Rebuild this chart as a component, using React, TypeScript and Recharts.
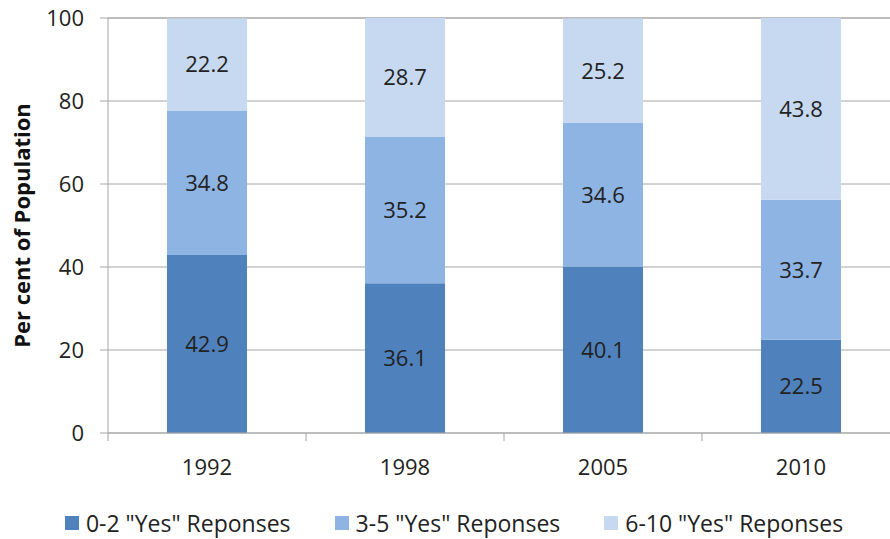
import React from "react";
import {
  BarChart,
  Bar,
  XAxis,
  YAxis,
  CartesianGrid,
  Legend,
  LabelList,
} from "recharts";

const years = ["1992", "1998", "2005", "2010"];
const low = [42.9, 36.1, 40.1, 22.5];
const mid = [34.8, 35.2, 34.6, 33.7];
const high = [22.2, 28.7, 25.2, 43.8];
const yTicks = [0, 20, 40, 60, 80, 100];

const seriesNames = {
  low: '0-2 "Yes" Reponses',
  mid: '3-5 "Yes" Reponses',
  high: '6-10 "Yes" Reponses',
};

const colors = {
  low: "#4f81bd",
  mid: "#8eb4e3",
  high: "#c6d9f1",
};

const data = years.map((year, i) => ({
  year,
  low: low[i],
  mid: mid[i],
  high: high[i],
}));

const FONT = "'Open Sans', sans-serif";
const AXIS_GREY = "#a6a6a6";
const TEXT = "#222";

// category label plus tick marks on the band edges
const YearTick = (props: any) => {
  const { x, y, payload, index, visibleTicksCount } = props;
  const half = payload.offset || 0;
  const top = y - 8;
  return (
    <g>
      <line x1={x - half} x2={x - half} y1={top} y2={top + 8} stroke={AXIS_GREY} />
      {index === visibleTicksCount - 1 && (
        <line x1={x + half} x2={x + half} y1={top} y2={top + 8} stroke={AXIS_GREY} />
      )}
      <text
        x={x}
        y={y + 34}
        textAnchor="middle"
        fontFamily={FONT}
        fontSize={22}
        fill={TEXT}
      >
        {payload.value}
      </text>
    </g>
  );
};

const LegendContent = (props: any) => {
  const { payload } = props;
  return (
    <div
      style={{
        display: "flex",
        justifyContent: "center",
        gap: 44,
        fontFamily: FONT,
        fontSize: 23,
        lineHeight: "32px",
        color: TEXT,
        paddingLeft: 8,
      }}
    >
      {payload.map((entry: any) => (
        <div key={entry.value} style={{ display: "flex", alignItems: "center" }}>
          <span
            style={{
              display: "inline-block",
              width: 14,
              height: 14,
              background: entry.color,
              marginRight: 7,
            }}
          />
          <span>{entry.value}</span>
        </div>
      ))}
    </div>
  );
};

const labelStyle = { fontFamily: FONT, fontSize: 22, fill: TEXT };

export default function App() {
  // plot runs slightly past the right edge, so the frame clips it
  return (
    <div
      style={{
        position: "absolute",
        left: 0,
        top: 0,
        width: 890,
        height: 539,
        overflow: "hidden",
        background: "#fff",
      }}
    >
      <BarChart
        width={900}
        height={539}
        data={data}
        margin={{ top: 18, right: 0, left: 0, bottom: 0 }}
        barCategoryGap="29.8%"
      >
        <CartesianGrid vertical={false} stroke={AXIS_GREY} />
        <XAxis
          dataKey="year"
          tickLine={false}
          axisLine={{ stroke: AXIS_GREY }}
          tick={<YearTick />}
          height={74}
          interval={0}
        />
        <YAxis
          domain={[0, 100]}
          ticks={yTicks}
          width={108}
          tickSize={8}
          tickMargin={16}
          tickLine={{ stroke: AXIS_GREY }}
          axisLine={{ stroke: AXIS_GREY }}
          tick={{ fontFamily: FONT, fontSize: 22, fill: TEXT }}
          label={{
            value: "Per cent of Population",
            angle: -90,
            position: "insideLeft",
            offset: 22,
            style: {
              fontFamily: FONT,
              fontSize: 22,
              fontWeight: 700,
              fill: "#111",
              textAnchor: "middle",
            },
          }}
        />
        <Legend verticalAlign="bottom" height={32} content={<LegendContent />} />
        <Bar dataKey="low" name={seriesNames.low} stackId="s" fill={colors.low} isAnimationActive={false}>
          <LabelList dataKey="low" position="center" style={labelStyle} />
        </Bar>
        <Bar dataKey="mid" name={seriesNames.mid} stackId="s" fill={colors.mid} isAnimationActive={false}>
          <LabelList dataKey="mid" position="center" style={labelStyle} />
        </Bar>
        <Bar dataKey="high" name={seriesNames.high} stackId="s" fill={colors.high} isAnimationActive={false}>
          <LabelList dataKey="high" position="center" style={labelStyle} />
        </Bar>
      </BarChart>
    </div>
  );
}
